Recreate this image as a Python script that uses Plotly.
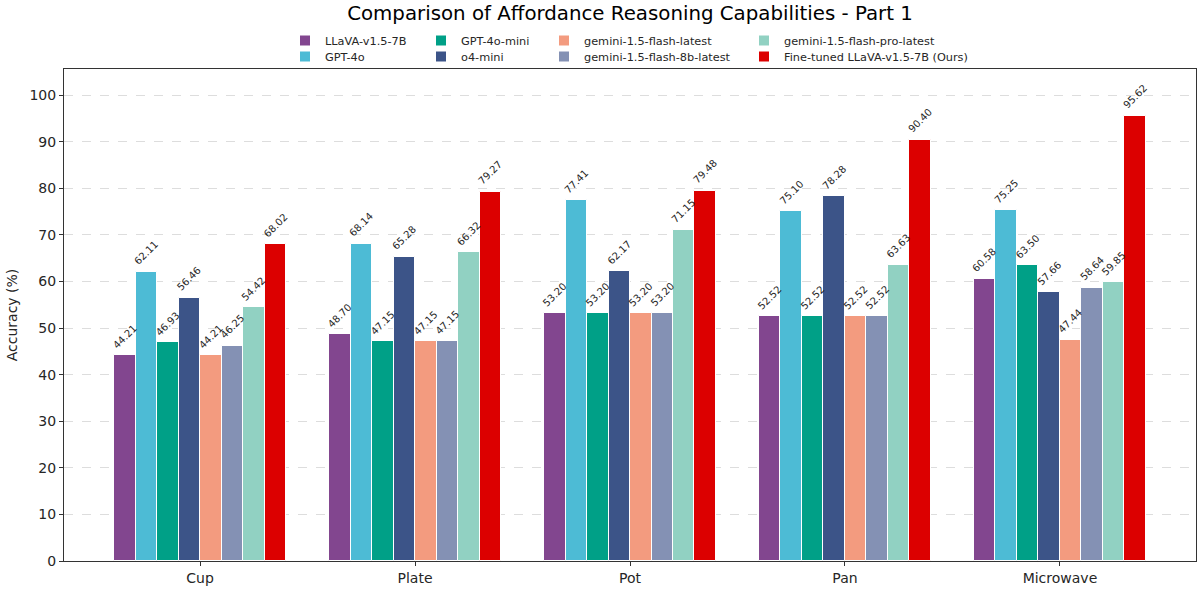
import plotly.graph_objects as go

categories = ["Cup", "Plate", "Pot", "Pan", "Microwave"]
series_names = [
    "LLaVA-v1.5-7B", "GPT-4o", "GPT-4o-mini", "o4-mini",
    "gemini-1.5-flash-latest", "gemini-1.5-flash-8b-latest",
    "gemini-1.5-flash-pro-latest", "Fine-tuned LLaVA-v1.5-7B (Ours)",
]
llava = [44.21, 48.70, 53.20, 52.52, 60.58]
gpt4o = [62.11, 68.14, 77.41, 75.10, 75.25]
gpt4o_mini = [46.93, 47.15, 53.20, 52.52, 63.50]
o4_mini = [56.46, 65.28, 62.17, 78.28, 57.66]
flash = [44.21, 47.15, 53.20, 52.52, 47.44]
flash_8b = [46.25, 47.15, 53.20, 52.52, 58.64]
flash_pro = [54.42, 66.32, 71.15, 63.63, 59.85]
ours = [68.02, 79.27, 79.48, 90.40, 95.62]
series_values = [llava, gpt4o, gpt4o_mini, o4_mini, flash, flash_8b, flash_pro, ours]
colors = ["#82468F", "#4DBBD5", "#00A087", "#3C5488",
          "#F39B7F", "#8491B4", "#91D1C2", "#DC0000"]
y_ticks = list(range(0, 101, 10))

FONT = "DejaVu Sans"
bar_w = 0.1
n = len(series_names)
legend_ids = ["legend"] + [f"legend{k}" for k in range(2, n + 1)]

fig = go.Figure()
annotations = []
for j, (name, vals, col) in enumerate(zip(series_names, series_values, colors)):
    xs = [i + (j - (n - 1) / 2) * bar_w for i in range(len(categories))]
    fig.add_trace(go.Bar(
        x=xs, y=vals, width=bar_w, name=name,
        marker=dict(color=col, line=dict(color="white", width=1)),
        legend=legend_ids[j],
        hovertemplate="%{y:.2f}<extra>" + name + "</extra>",
    ))
    for x, v in zip(xs, vals):
        annotations.append(dict(
            x=x, y=v, xref="x", yref="y", text=f"{v:.2f}", showarrow=False,
            textangle=-45, xanchor="center", yanchor="bottom", yshift=2,
            font=dict(family=FONT, size=10, color="#262626"),
        ))

W, H = 1198, 589
ml, mr, mt, mb = 64, 2, 69, 28
pw = W - ml - mr
ph = H - mt - mb

def px_x(p):
    return (p - ml) / pw

def px_y(p):
    return (H - mb - p) / ph

legend_text_x = [325, 461, 584, 784]
legend_top_y = [26, 42]
legend_cfg = {}
for j, lid in enumerate(legend_ids):
    col, row = j // 2, j % 2
    legend_cfg[lid] = dict(
        x=px_x(legend_text_x[col] - 40), y=px_y(legend_top_y[row]),
        xanchor="left", yanchor="top",
        orientation="v", bgcolor="rgba(0,0,0,0)", borderwidth=0,
        font=dict(family=FONT, size=11.3, color="#262626"),
        itemsizing="constant",
    )

fig.update_layout(
    width=W, height=H,
    margin=dict(l=ml, r=mr, t=mt, b=mb),
    paper_bgcolor="white", plot_bgcolor="white",
    font=dict(family=FONT, color="#262626"),
    title=dict(text="Comparison of Affordance Reasoning Capabilities - Part 1",
               xref="paper", x=0.5, xanchor="center", y=1 - 13 / H, yanchor="middle",
               font=dict(family=FONT, size=19.8, color="#000000")),
    showlegend=True,
    annotations=annotations,
    bargap=0, barmode="overlay",
    **legend_cfg,
)
fig.update_xaxes(
    range=[-0.633, len(categories) - 1 + 0.633],
    tickvals=list(range(len(categories))), ticktext=categories,
    ticks="outside", ticklen=4, tickcolor="#333333",
    showline=True, linecolor="#333333", linewidth=1, mirror=True,
    showgrid=False, zeroline=False,
    tickfont=dict(family=FONT, size=14, color="#262626"),
)
fig.update_yaxes(
    range=[0, 105.6], tickvals=y_ticks,
    ticks="outside", ticklen=4, tickcolor="#333333",
    showline=True, linecolor="#333333", linewidth=1, mirror=True,
    showgrid=True, gridcolor="#dddddd", griddash="dash", gridwidth=1,
    zeroline=False,
    tickfont=dict(family=FONT, size=14, color="#262626"),
    title=dict(text="Accuracy (%)", font=dict(family=FONT, size=14, color="#262626"),
               standoff=8),
)
fig.write_html("out.html")
